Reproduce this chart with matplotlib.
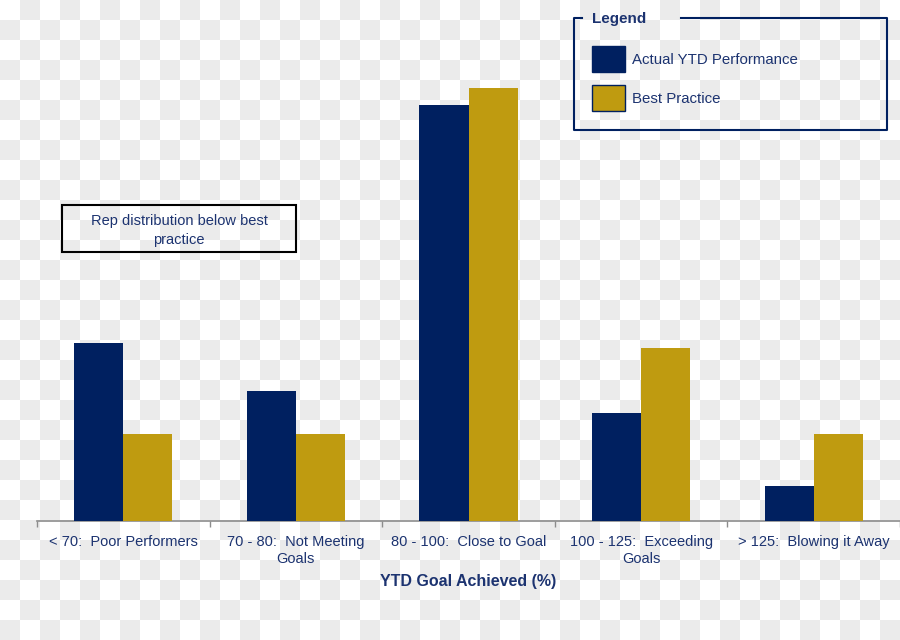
import numpy as np
import matplotlib
matplotlib.use('Agg')
from matplotlib import pyplot as plt
import matplotlib.patches as mpatches
from matplotlib.lines import Line2D

plt.rcParams['font.family'] = ['Liberation Sans', 'DejaVu Sans']

# data (% of reps in each band)
categories = ['< 70:  Poor Performers', '70 - 80:  Not Meeting\nGoals',
              '80 - 100:  Close to Goal', '100 - 125:  Exceeding\nGoals',
              '> 125:  Blowing it Away']
actual = [20.5, 15, 48, 12.5, 4]
best = [10, 10, 50, 20, 10]
series_names = ['Actual YTD Performance', 'Best Practice']

navy = '#002060'
gold = '#bf9b10'
txt = '#1c3370'

W, H = 900, 640
fig = plt.figure(figsize=(9, 6.4), dpi=100)

# checkerboard background
yy, xx = np.mgrid[0:H, 0:W]
chk = ((yy // 20 + xx // 20) % 2).astype(float)
bg = np.where(chk[..., None] > 0, 0.922, 1.0) * np.ones((H, W, 3))
fig.figimage(bg, xo=0, yo=0, origin='upper', zorder=-10)

def fx(px):
    return px / W

def fy(py):
    return 1 - py / H

ax = fig.add_axes([fx(37), fy(521), fx(900) - fx(37), 521 / H])
ax.patch.set_visible(False)
ax.set_zorder(5)

x = np.arange(len(categories))
bw = 0.285
b1 = ax.bar(x - bw / 2, actual, bw, color=navy, zorder=3)
b2 = ax.bar(x + bw / 2, best, bw, color=gold, zorder=3)

ax.set_xlim(-0.5, len(categories) - 0.5)
ax.set_ylim(0, 521 / 8.66)
for s in ['top', 'left', 'right']:
    ax.spines[s].set_visible(False)
ax.spines['bottom'].set_color('#8c8c8c')
ax.spines['bottom'].set_linewidth(1.2)
ax.set_yticks([])
ax.set_xticks(x)
ax.set_xticklabels(categories, fontsize=10.5, color=txt, linespacing=1.25)
ax.tick_params(axis='x', which='major', length=0, pad=10)
ax.set_xticks(np.arange(len(categories) + 1) - 0.5, minor=True)
ax.tick_params(axis='x', which='minor', length=4, color='#8c8c8c', width=1)
ax.set_xlabel('YTD Goal Achieved (%)', fontsize=11.5, fontweight='bold',
              color=txt, labelpad=6)

# legend with custom frame
handles = [mpatches.Patch(facecolor=navy, edgecolor=navy),
           mpatches.Patch(facecolor=gold, edgecolor=navy)]
fig.legend(handles, series_names, loc='upper left',
           bbox_to_anchor=(fx(592), fy(46)), frameon=False, borderpad=0,
           borderaxespad=0, fontsize=10.8, handlelength=2.2, handleheight=2.3,
           labelspacing=0.85, handletextpad=0.5, labelcolor=txt)
frame_x = [fx(582), fx(574), fx(574), fx(887), fx(887), fx(681)]
frame_y = [fy(18), fy(18), fy(130), fy(130), fy(18), fy(18)]
fig.add_artist(Line2D(frame_x, frame_y, color=navy, lw=1.5))
fig.text(fx(592), fy(19), 'Legend', fontsize=11, fontweight='bold',
         color=txt, va='center', ha='left')

# annotation box
fig.add_artist(mpatches.Rectangle((fx(62), fy(252)), fx(296) - fx(62),
                                  fy(205) - fy(252), fill=False,
                                  edgecolor='black', lw=1.5))
fig.text(fx(179), fy(230.5), 'Rep distribution below best\npractice',
         fontsize=10.5, color=txt, ha='center', va='center', linespacing=1.4)

fig.savefig('out.png', dpi=100)
